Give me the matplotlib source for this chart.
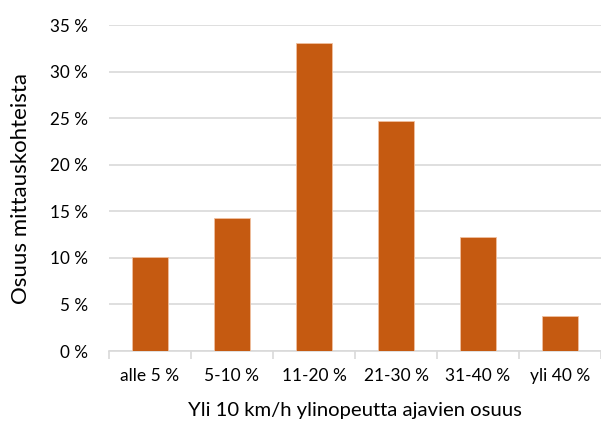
import matplotlib
matplotlib.use("Agg")
import matplotlib.pyplot as plt
import numpy as np
from matplotlib.ticker import FixedLocator

categories = ["alle 5 %", "5-10 %", "11-20 %", "21-30 %", "31-40 %", "yli 40 %"]
values = [10.1, 14.3, 33.1, 24.7, 12.2, 3.8]
yticks = [0, 5, 10, 15, 20, 25, 30, 35]

plt.rcParams['font.family'] = ['Lato', 'DejaVu Sans']

fig = plt.figure(figsize=(6.01, 4.30), dpi=100)
ax = fig.add_axes([109/601, 1-351/430, (601-109)/601, (351-25)/430])

x = np.arange(len(categories))
ax.bar(x, values, width=0.45, color='#C55A11', edgecolor='#F0C0A0', linewidth=0.6, zorder=3)

ax.set_xlim(-0.5, len(categories)-0.5)
ax.set_ylim(0, 35)
ax.set_yticks(yticks)
ax.set_yticklabels([f"{t} %" for t in yticks])
ax.set_xticks(x)
ax.set_xticklabels(categories)
ax.xaxis.set_minor_locator(FixedLocator(np.arange(-0.5, len(categories), 1.0)))

ax.grid(axis='y', color='#D9D9D9', linewidth=1.2, zorder=0)
for s in ['top', 'right', 'left']:
    ax.spines[s].set_visible(False)
ax.spines['bottom'].set_color('#D9D9D9')
ax.spines['bottom'].set_linewidth(1.2)

ax.tick_params(axis='y', length=0, pad=15, labelsize=12.3, labelcolor='#000000')
ax.tick_params(axis='x', which='major', length=0, pad=12, labelsize=12.5)
ax.tick_params(axis='x', which='minor', length=6, width=1.2, color='#D9D9D9')

ax.set_ylabel("Osuus mittauskohteista", fontsize=16, labelpad=14)
ax.set_xlabel("Yli 10 km/h ylinopeutta ajavien osuus", fontsize=14.6, labelpad=13)

fig.savefig("out.png", dpi=100)
